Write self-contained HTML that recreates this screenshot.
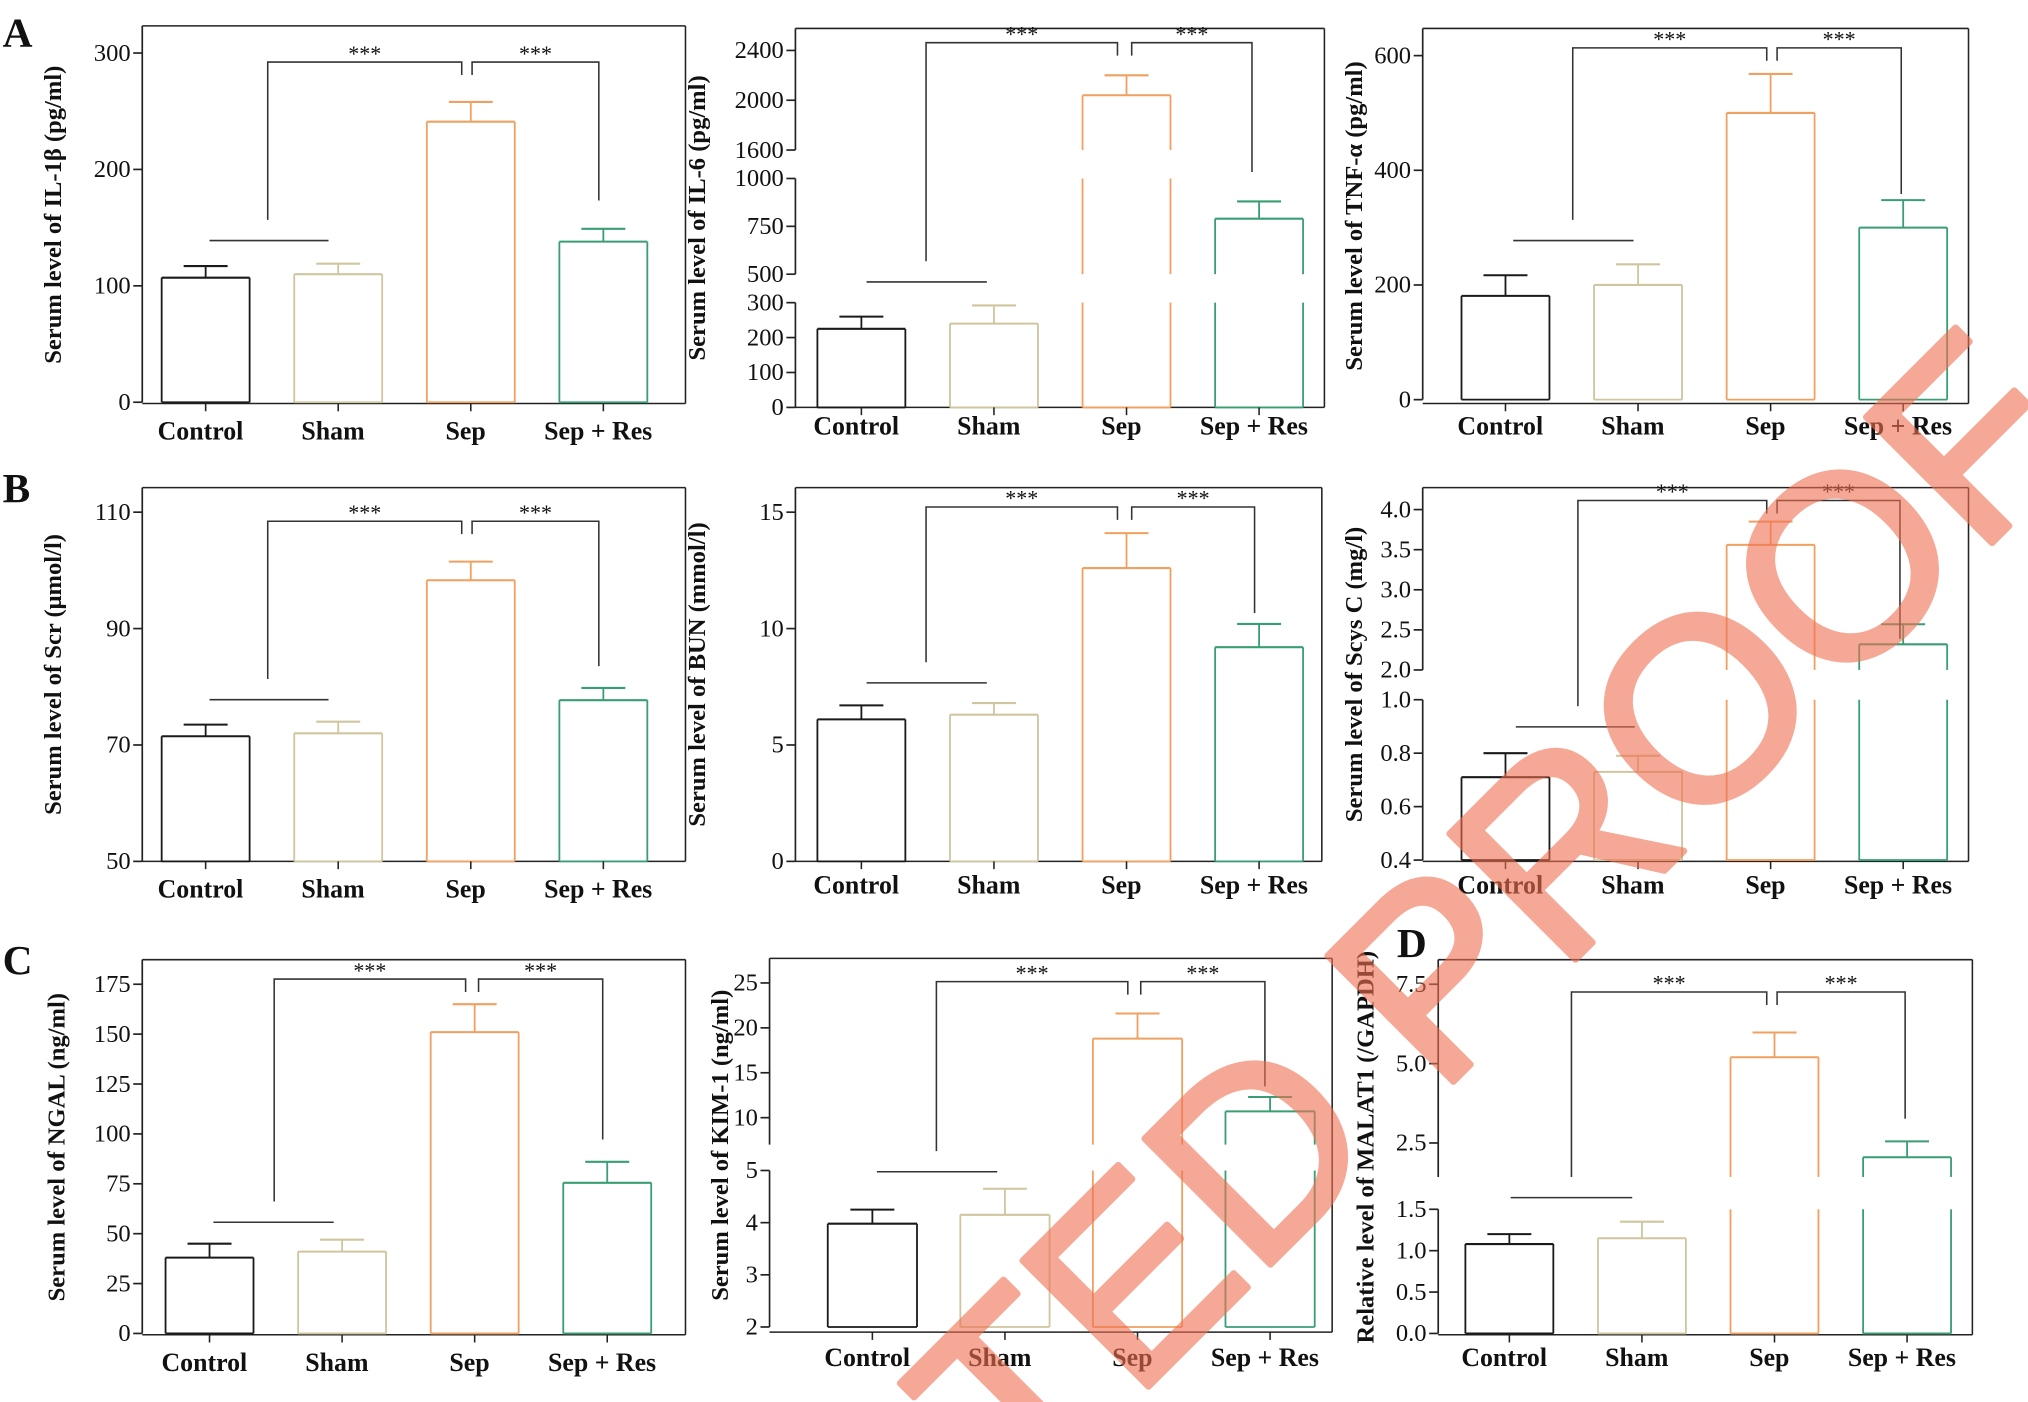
<!DOCTYPE html>
<html><head><meta charset="utf-8"><style>
html,body{margin:0;padding:0;background:#fff;overflow:hidden;width:2028px;height:1402px;}
svg{display:block;}
text{font-family:"Liberation Serif",serif;}
</style></head><body>
<svg id="fig" width="2028" height="1402" viewBox="0 0 1568 1084" preserveAspectRatio="none" xmlns="http://www.w3.org/2000/svg" overflow="hidden"></svg>
<script>
const categories = ["Control","Sham","Sep","Sep + Res"];
const colors = ["#1a1a1a","#cfc59f","#f0a060","#3a9e74"];
const il1bVals=[107,110,241,138], il1bErr=[117,119,258,149];
const il6Vals=[225,240,2040,790], il6Err=[260,292,2200,880];
const tnfVals=[181,200,500,300], tnfErr=[217,236,568,348];
const scrVals=[71.5,72,98.3,77.7], scrErr=[73.5,74,101.5,79.8];
const bunVals=[6.1,6.3,12.6,9.2], bunErr=[6.7,6.8,14.1,10.2];
const scysVals=[0.71,0.73,3.56,2.32], scysErr=[0.8,0.79,3.85,2.57];
const ngalVals=[38,41,151,75.5], ngalErr=[45,47,165,86];
const kimVals=[3.98,4.15,18.8,10.7], kimErr=[4.25,4.65,21.6,12.3];
const malatVals=[1.08,1.15,5.2,2.05], malatErr=[1.2,1.35,5.98,2.55];
const il1bTicks=[["0","100","200","300"]];
const il6Ticks=[["0","100","200","300"],["500","750","1000"],["1600","2000","2400"]];
const tnfTicks=[["0","200","400","600"]];
const scrTicks=[["50","70","90","110"]];
const bunTicks=[["0","5","10","15"]];
const scysTicks=[["0.4","0.6","0.8","1.0"],["2.0","2.5","3.0","3.5","4.0"]];
const ngalTicks=[["0","25","50","75","100","125","150","175"]];
const kimTicks=[["2","3","4","5"],["10","15","20","25"]];
const malatTicks=[["0.0","0.5","1.0","1.5"],["2.5","5.0","7.5"]];

const panels=[
 {name:"il1b",vals:il1bVals,err:il1bErr,ticks:il1bTicks,box:[110,20,530,312],segs:[[0,300,311,41]],x0:125,step:102.5,w:68,ly:333,title:"Serum level of IL-1β (pg/ml)",tx:47,grp:[162,254,186],v1:207,top:48,sx:357,sb:58,x2:365,x3:463,rb:155},
 {name:"il6",vals:il6Vals,err:il6Err,ticks:il6Ticks,box:[615,22,1024,315],segs:[[0,300,315,234],[500,1000,212,138],[1600,2400,116,39]],x0:632,step:102.5,w:68,ly:329,title:"Serum level of IL-6 (pg/ml)",tx:545,grp:[670,763,218],v1:716,top:33,sx:864,sb:43,x2:875,x3:968,rb:133},
 {name:"tnf",vals:tnfVals,err:tnfErr,ticks:tnfTicks,box:[1100,22,1522,312],segs:[[0,600,309,43]],x0:1130,step:102.5,w:68,ly:329,title:"Serum level of TNF-α (pg/ml)",tx:1053,grp:[1170,1263,186],v1:1216,top:37,sx:1366,sb:47,x2:1374,x3:1470,rb:150},
 {name:"scr",vals:scrVals,err:scrErr,ticks:scrTicks,box:[110,377,530,666],segs:[[50,110,666,396]],x0:125,step:102.5,w:68,ly:687,title:"Serum level of Scr (μmol/l)",tx:47,grp:[162,254,541],v1:207,top:403,sx:357,sb:413,x2:365,x3:463,rb:515},
 {name:"bun",vals:bunVals,err:bunErr,ticks:bunTicks,box:[615,377,1022,666],segs:[[0,15,666,396]],x0:632,step:102.5,w:68,ly:684,title:"Serum level of BUN (mmol/l)",tx:545,grp:[670,763,528],v1:716,top:392,sx:864,sb:402,x2:875,x3:970,rb:474},
 {name:"scys",vals:scysVals,err:scysErr,ticks:scysTicks,box:[1100,377,1522,666],segs:[[0.4,1.0,665,541],[2.0,4.0,518,394]],x0:1130,step:102.5,w:68,ly:684,title:"Serum level of Scys C (mg/l)",tx:1053,grp:[1172,1264,562],v1:1220,top:387,sx:1366,sb:397,x2:1374,x3:1469,rb:494},
 {name:"ngal",vals:ngalVals,err:ngalErr,ticks:ngalTicks,box:[110,742,530,1032],segs:[[0,175,1031,761]],x0:128,step:102.5,w:68,ly:1053,title:"Serum level of NGAL (ng/ml)",tx:50,grp:[165,258,945],v1:212,top:757,sx:360,sb:767,x2:370,x3:466,rb:881},
 {name:"kim1",vals:kimVals,err:kimErr,ticks:kimTicks,box:[595,741,1030,1030],segs:[[2,5,1026,905],[7,25,885,760]],x0:640,step:102.5,w:69,ly:1049,title:"Serum level of KIM-1 (ng/ml)",tx:563,grp:[678,771,906],v1:724,top:759,sx:872,sb:769,x2:882,x3:978,rb:840},
 {name:"malat1",vals:malatVals,err:malatErr,ticks:malatTicks,box:[1112,742,1525,1032],segs:[[0,1.5,1031,935],[1.43,7.5,910,761]],x0:1133,step:102.5,w:68,ly:1049,title:"Relative level of MALAT1 (/GAPDH)",tx:1062,grp:[1168,1262,926],v1:1215,top:767,sx:1366,sb:777,x2:1374,x3:1473,rb:865}
];
const NS="http://www.w3.org/2000/svg";
const svg=document.getElementById("fig");
function mk(tag,attrs,parent,txt){const e=document.createElementNS(NS,tag);for(const k in attrs)e.setAttribute(k,attrs[k]);if(txt!==undefined)e.textContent=txt;(parent||svg).appendChild(e);return e;}
function yScale(v,segs){for(let i=segs.length-1;i>=0;i--){const s=segs[i];if(v>=s[0]&&v<=s[1])return s[2]+(v-s[0])/(s[1]-s[0])*(s[3]-s[2]);}
 const t=segs[segs.length-1];if(v>t[1])return t[2]+(v-t[0])/(t[1]-t[0])*(t[3]-t[2]);
 for(let i=0;i<segs.length-1;i++){if(v>segs[i][1]&&v<segs[i+1][0])return segs[i][3];}return segs[0][2];}
function line(g,x1,y1,x2,y2,c,w){return mk("line",{x1,y1,x2,y2,stroke:c,"stroke-width":w||1.3},g);}

panels.forEach(p=>{
 const g=mk("g",{});
 
 
 const [L,T,R,B]=p.box;
 line(g,L,T,R,T,"#222",1.2);line(g,R,T,R,B,"#222",1.2);line(g,L,B,R,B,"#222",1.2);
 p.segs.forEach((s,si)=>{
  const topY=(si===p.segs.length-1)?T:s[3];
  const ax=line(g,L,s[2],L,topY,"#222",1.3);
  
  
  const labs=p.ticks[si];
  labs.forEach(lb=>{const y=yScale(parseFloat(lb),[s]);line(g,L-7,y,L,y,"#222",1.3);
   const t=mk("text",{x:L-9,y:y+6,"font-size":19,"text-anchor":"end",fill:"#111"},g,lb);
   
   });
 });
 const tt=mk("text",{x:p.tx,y:(T+B)/2,"font-size":19,"font-weight":"bold","text-anchor":"middle",transform:`rotate(-90 ${p.tx} ${(T+B)/2})`,fill:"#111"},g,p.title);
 
 
 p.vals.forEach((v,i)=>{
  const x=p.x0+i*p.step,xr=x+p.w,cx=x+p.w/2,c=colors[i];
  const bg=mk("g",{},g);
  
  
  const base=p.segs[0][2];
  line(bg,x,base,xr,base,c,1.4);
  p.segs.forEach(s=>{if(v>s[0]||s===p.segs[0]){const yt=yScale(Math.min(v,s[1]),[s]);line(bg,x,s[2],x,yt,c,1.4);line(bg,xr,s[2],xr,yt,c,1.4);}});
  const yv=yScale(v,p.segs),ye=yScale(p.err[i],p.segs);
  line(bg,x,yv,xr,yv,c,1.6);
  line(bg,cx,yv,cx,ye,c,1.4);line(bg,cx-17,ye,cx+17,ye,c,1.6);
  line(g,cx,B,cx,B+6,"#222",1.2);
  const lt=mk("text",{x:cx-4,y:p.ly+7,"font-size":20,"font-weight":"bold","text-anchor":"middle",fill:"#111"},g,categories[i]);
  
  
 });
 const sg=mk("g",{},g);
 
 
 line(sg,p.grp[0],p.grp[2],p.grp[1],p.grp[2],"#333",1.2);
 mk("polyline",{points:`${p.v1},${p.grp[2]-16} ${p.v1},${p.top} ${p.sx},${p.top} ${p.sx},${p.sb}`,fill:"none",stroke:"#333","stroke-width":1.2},sg);
 mk("polyline",{points:`${p.x2},${p.sb} ${p.x2},${p.top} ${p.x3},${p.top} ${p.x3},${p.rb}`,fill:"none",stroke:"#333","stroke-width":1.2},sg);
 mk("text",{x:(p.v1+p.sx)/2,y:p.top-1,"font-size":17,"text-anchor":"middle",fill:"#111"},sg,"***");
 mk("text",{x:(p.x2+p.x3)/2,y:p.top-1,"font-size":17,"text-anchor":"middle",fill:"#111"},sg,"***");
});
[["A",14,28],["B",14,380],["C",14,745],["D",1092,732]].forEach(a=>{
 const t=mk("text",{x:a[1]-12,y:a[2]+8,"font-size":32,"font-weight":"bold",fill:"#111"},svg,a[0]);
 
 
});
const wg=mk("g",{opacity:0.6},svg);


const wm=mk("text",{x:0,y:0,"font-size":200,"text-anchor":"end",fill:"#f07050",stroke:"#f07050","stroke-width":5,"stroke-linejoin":"round",transform:"translate(1615,345) rotate(-45)",style:"font-family:'Liberation Sans',sans-serif"},wg,"RETRACTED PROOF");


</script>
</body></html>
